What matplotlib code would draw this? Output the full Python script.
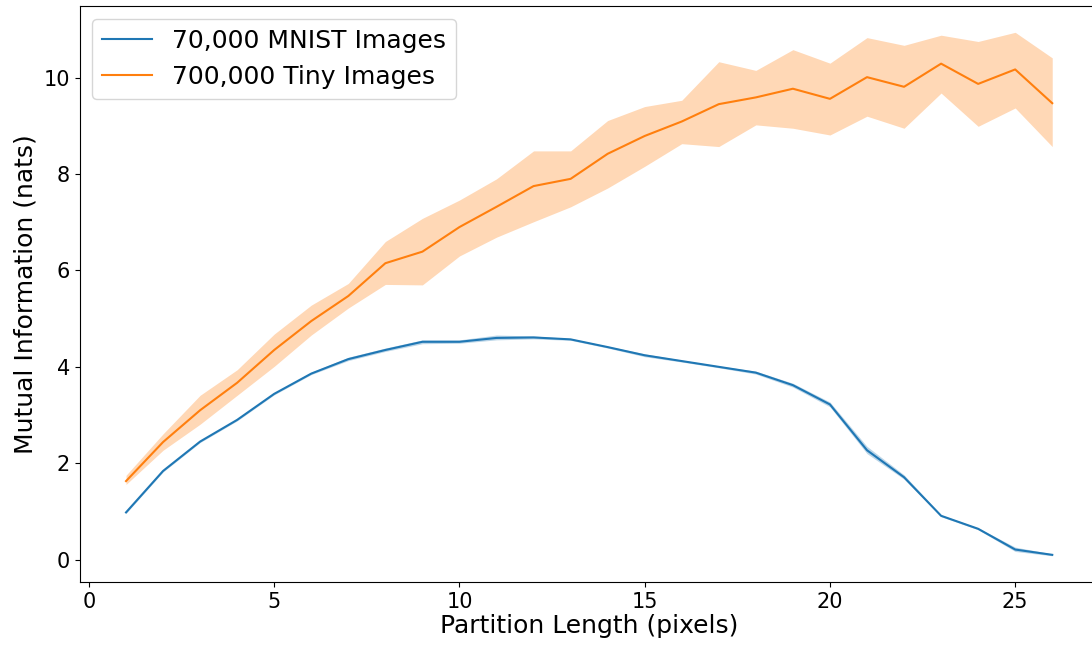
import numpy as np
from matplotlib import pyplot as plt

partition = np.arange(1, 27)

mnist_mean = [0.98, 1.84, 2.45, 2.90, 3.44, 3.86, 4.16, 4.35, 4.52, 4.52, 4.60, 4.61, 4.57,
              4.41, 4.24, 4.12, 4.00, 3.88, 3.62, 3.22, 2.27, 1.71, 0.91, 0.64, 0.21, 0.10]
mnist_low = [0.96, 1.82, 2.43, 2.88, 3.42, 3.84, 4.13, 4.32, 4.48, 4.49, 4.56, 4.58, 4.55,
             4.39, 4.21, 4.10, 3.98, 3.85, 3.58, 3.17, 2.20, 1.67, 0.89, 0.62, 0.17, 0.08]
mnist_high = [1.00, 1.86, 2.47, 2.92, 3.46, 3.89, 4.20, 4.39, 4.56, 4.56, 4.66, 4.64, 4.59,
              4.43, 4.27, 4.14, 4.02, 3.91, 3.66, 3.27, 2.35, 1.76, 0.93, 0.66, 0.26, 0.12]

tiny_mean = [1.63, 2.44, 3.10, 3.67, 4.35, 4.95, 5.47, 6.15, 6.39, 6.90, 7.32, 7.75, 7.90,
             8.42, 8.79, 9.09, 9.45, 9.59, 9.77, 9.56, 10.01, 9.81, 10.29, 9.87, 10.17, 9.47]
tiny_low = [1.56, 2.27, 2.81, 3.41, 4.01, 4.66, 5.22, 5.71, 5.70, 6.30, 6.69, 7.01, 7.32,
            7.71, 8.16, 8.63, 8.57, 9.02, 8.95, 8.81, 9.20, 8.95, 9.68, 8.99, 9.37, 8.57]
tiny_high = [1.75, 2.61, 3.41, 3.94, 4.68, 5.28, 5.73, 6.60, 7.08, 7.46, 7.90, 8.48, 8.48,
             9.11, 9.40, 9.53, 10.33, 10.15, 10.58, 10.30, 10.83, 10.67, 10.88, 10.75, 10.94, 10.41]

fig = plt.figure(figsize=(10.92, 6.47), dpi=100)
# the original is cropped on the right, so the axes run slightly past the figure edge
ax = fig.add_axes([0.073, 0.1005, 0.933, 0.890])

ax.plot(partition, mnist_mean, color='tab:blue', label='70,000 MNIST Images')
ax.fill_between(partition, mnist_low, mnist_high, color='tab:blue', alpha=0.3, linewidth=0)
ax.plot(partition, tiny_mean, color='tab:orange', label='700,000 Tiny Images')
ax.fill_between(partition, tiny_low, tiny_high, color='tab:orange', alpha=0.3, linewidth=0)

ax.set_xlabel('Partition Length (pixels)', fontsize=18, labelpad=2)
ax.set_ylabel('Mutual Information (nats)', fontsize=18)
ax.tick_params(labelsize=15)
ax.legend(fontsize=18, loc='upper left')

fig.savefig('out.png', dpi=100)
